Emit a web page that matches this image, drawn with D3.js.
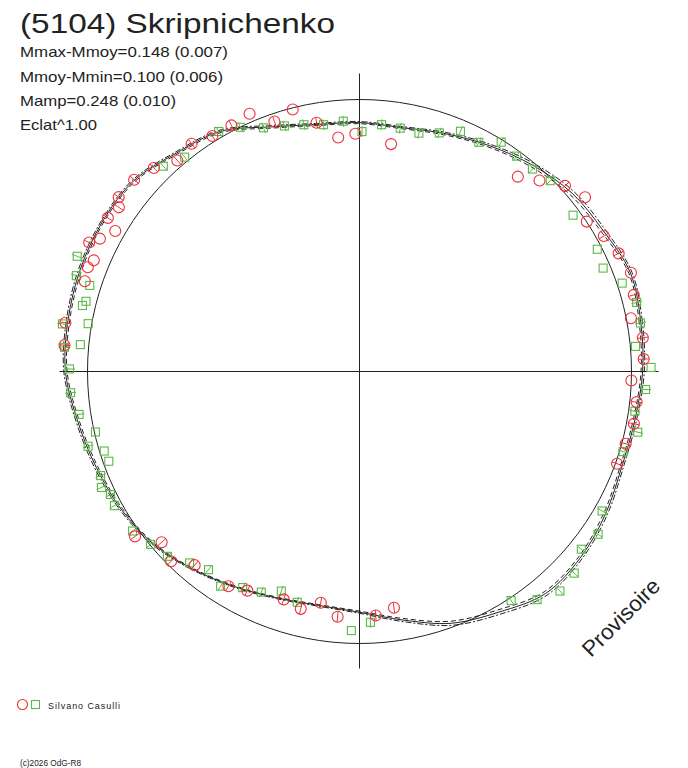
<!DOCTYPE html>
<html><head><meta charset="utf-8">
<script src="https://cdn.jsdelivr.net/npm/d3@7"></script>
<style>html,body{margin:0;padding:0;background:#fff}svg{display:block}</style>
</head><body>
<script>
// ---- data ----
const titleText = "(5104) Skripnichenko";
const statLines = ["Mmax-Mmoy=0.148 (0.007)", "Mmoy-Mmin=0.100 (0.006)", "Mamp=0.248 (0.010)", "Eclat^1.00"];
const observer = "Silvano Casulli";
const copyright = "(c)2026 OdG-R8";
const stamp = "Provisoire";

// fitted light curve: angle (deg, ccw from +x) and relative flux
const curveAngle = [0,10,20,30,40,50,60,70,80,90,100,110,120,130,140,150,160,170,180,190,200,210,220,230,240,250,260,270,280,290,300,310,320,330,340,350];
const curveFit  = [1.041,1.050,1.060,1.035,1.020,0.990,0.958,0.930,0.910,0.915,0.922,0.957,1.020,1.048,1.087,1.094,1.093,1.088,1.081,1.052,1.030,1.012,0.988,0.950,0.914,0.886,0.873,0.885,0.928,0.985,1.022,1.065,1.062,1.045,1.026,1.028];
const curveHigh = [1.047,1.056,1.066,1.043,1.029,0.998,0.964,0.935,0.914,0.919,0.926,0.962,1.025,1.053,1.092,1.099,1.099,1.094,1.087,1.058,1.036,1.017,0.992,0.953,0.917,0.889,0.876,0.889,0.934,0.993,1.031,1.073,1.069,1.052,1.032,1.034];
const curveLow  = [1.035,1.044,1.054,1.027,1.011,0.982,0.952,0.925,0.906,0.911,0.918,0.952,1.015,1.043,1.082,1.089,1.087,1.082,1.075,1.046,1.024,1.007,0.984,0.947,0.911,0.883,0.870,0.881,0.922,0.977,1.013,1.057,1.055,1.038,1.020,1.022];

// observations: [angle deg, relative flux, error]
const redObs = [
 [104.3,0.994,0],[113.1,1.030,0],[108.8,0.971,0.02],[99.8,0.928,0.02],[95.2,0.864,0],[91.0,0.874,0],
 [117.5,1.020,0.02],[122.0,1.021,0.02],[126.4,1.040,0.02],[130.8,1.025,0.02],[135.3,1.064,0.02],[139.6,1.088,0.02],
 [144.1,1.093,0.02],[145.7,1.071,0.02],[148.6,1.084,0.02],[150.1,1.036,0],[152.9,1.072,0],[154.5,1.101,0.02],
 [157.3,1.059,0],[159.0,1.070,0],[161.8,1.063,0],[170.6,1.096,0.02],[174.9,1.089,0.02],[82.1,0.844,0],
 [50.9,0.923,0],[46.7,0.965,0],[42.1,1.018,0.02],[37.7,1.048,0],[33.4,1.001,0],[29.0,1.027,0.02],
 [24.5,1.047,0.02],[20.0,1.062,0],[15.6,1.047,0.02],[11.1,1.017,0],[6.8,1.049,0.02],[2.5,1.046,0.02],
 [358.1,1.000,0],[353.7,1.025,0.02],[349.2,1.027,0.02],[344.8,1.014,0.02],[340.3,1.006,0.02],
 [278.3,0.878,0.02],[273.8,0.899,0.02],[216.3,1.024,0.02],[220.8,0.961,0.02],[225.2,0.983,0.02],
 [229.6,0.935,0.02],[238.6,0.925,0.02],[242.9,0.905,0.02],[251.6,0.883,0.02],[256.1,0.899,0.02],
 [260.5,0.862,0.02],[264.9,0.905,0.02]
];
const greenObs = [
 [93.7,0.922,0.02],[98.3,0.917,0.02],[102.7,0.930,0.02],[107.0,0.944,0.02],[111.5,0.963,0.02],[116.0,0.999,0.02],
 [120.4,1.023,0.02],[89.4,0.882,0.02],[129.2,1.017,0.02],[133.7,1.044,0.02],[157.8,1.121,0.02],[161.3,1.099,0.02],
 [162.3,1.041,0],[165.6,1.038,0],[166.6,1.047,0],[170.0,1.013,0],[170.9,1.106,0.02],[174.5,1.031,0],
 [175.3,1.088,0.02],[179.5,1.066,0.02],[84.9,0.911,0.02],[80.5,0.907,0.02],[76.0,0.903,0.02],[71.5,0.925,0.02],
 [67.2,0.958,0.02],[62.5,0.950,0.02],[58.3,0.991,0.02],[53.9,0.980,0.02],[49.5,0.979,0.02],[45.0,0.992,0.02],
 [36.2,0.973,0],[27.2,0.983,0],[23.0,0.973,0],[18.6,1.019,0],[14.0,1.050,0.02],[9.8,1.048,0.02],
 [5.2,1.019,0],[0.8,1.072,0],[356.4,1.054,0.02],[351.8,1.023,0.02],[347.7,1.047,0.02],[343.1,1.013,0.02],
 [330.1,1.029,0.02],[325.7,1.062,0.02],[321.3,1.045,0.02],[316.8,1.083,0.02],[312.4,1.093,0.02],
 [307.9,1.063,0.02],[303.5,1.010,0.02],[272.5,0.923,0.02],[268.2,0.953,0],
 [184.2,1.065,0.02],[188.7,1.043,0.02],[192.9,0.996,0],[195.4,1.035,0.02],[197.3,0.983,0],[199.7,0.979,0],
 [201.9,1.026,0.02],[204.2,1.040,0.02],[206.3,1.021,0.02],[208.7,1.027,0.02],[215.1,1.020,0.02],
 [219.6,0.997,0.02],[223.9,0.980,0.02],[228.4,0.941,0.02],[232.7,0.916,0.02],[237.1,0.940,0.02],
 [241.6,0.903,0.02],[246.0,0.888,0.02],[250.4,0.857,0.02],[254.9,0.879,0.02]
];

// ---- drawing ----
const W = 688, H = 768;
const cx = 359.5, cy = 371.5, R = 272;
const RED = "#ec3038", GREEN = "#5ab947", INK = "#222";
const FONT = "'Liberation Sans', Arial, Helvetica, sans-serif";

const rScale = d3.scaleLinear().domain([0, 1]).range([0, R]);
const aScale = d3.scaleLinear().domain([0, 360]).range([Math.PI / 2, Math.PI / 2 - 2 * Math.PI]);

const svg = d3.select("body").append("svg").attr("width", W).attr("height", H)
  .attr("viewBox", `0 0 ${W} ${H}`);
svg.append("rect").attr("width", W).attr("height", H).attr("fill", "#fff");

const g = svg.append("g").attr("transform", `translate(${cx},${cy})`);

// axes
g.append("line").attr("x1", -300).attr("x2", 299).attr("y1", 0).attr("y2", 0)
  .attr("stroke", INK).attr("stroke-width", 1);
g.append("line").attr("x1", 0).attr("x2", 0).attr("y1", -298).attr("y2", 297)
  .attr("stroke", INK).attr("stroke-width", 1);

// reference circle (mean brightness)
g.append("circle").attr("r", rScale(1)).attr("fill", "none").attr("stroke", INK).attr("stroke-width", 1);

// fitted curves
const radial = d3.lineRadial()
  .angle(d => aScale(d[0]))
  .radius(d => rScale(d[1]))
  .curve(d3.curveCatmullRomClosed);
const fitSets = [
  {vals: curveHigh, dash: "6,2,2,2"},
  {vals: curveLow, dash: "5,3"},
  {vals: curveFit, dash: null}
];
fitSets.forEach(s => {
  g.append("path")
    .attr("d", radial(curveAngle.map((a, i) => [a, s.vals[i]])))
    .attr("fill", "none").attr("stroke", INK).attr("stroke-width", 1)
    .attr("stroke-dasharray", s.dash);
});

// error bars + markers
function drawObs(obs, color, shape) {
  const grp = g.append("g");
  obs.forEach(([a, f, e]) => {
    const th = aScale(a);
    const [x, y] = d3.pointRadial(th, rScale(f));
    if (e > 0) {
      const p1 = d3.pointRadial(th, rScale(f - e));
      const p2 = d3.pointRadial(th, rScale(f + e));
      grp.append("line").attr("x1", p1[0]).attr("y1", p1[1]).attr("x2", p2[0]).attr("y2", p2[1])
        .attr("stroke", color).attr("stroke-width", 1);
    }
    if (shape === "circle") {
      grp.append("circle").attr("cx", x).attr("cy", y).attr("r", 5.5)
        .attr("fill", "none").attr("stroke", color).attr("stroke-width", 1.1);
    } else {
      grp.append("rect").attr("x", x - 4).attr("y", y - 4).attr("width", 8).attr("height", 8)
        .attr("fill", "none").attr("stroke", color).attr("stroke-width", 1.1);
    }
  });
}
drawObs(greenObs, GREEN, "square");
drawObs(redObs, RED, "circle");

// texts
svg.append("text").attr("x", 20).attr("y", 32.5).text(titleText)
  .attr("font-family", FONT).attr("font-size", 27).attr("fill", INK)
  .attr("textLength", 315).attr("lengthAdjust", "spacingAndGlyphs");
const statLen = [208, 203, 156, 77];
const statY = [57, 81.5, 106, 130];
statLines.forEach((t, i) => {
  svg.append("text").attr("x", 20).attr("y", statY[i]).text(t)
    .attr("font-family", FONT).attr("font-size", 15).attr("fill", INK)
    .attr("textLength", statLen[i]).attr("lengthAdjust", "spacingAndGlyphs");
});

// legend
svg.append("circle").attr("cx", 22.5).attr("cy", 704.5).attr("r", 5)
  .attr("fill", "none").attr("stroke", RED).attr("stroke-width", 1.1);
svg.append("rect").attr("x", 31.5).attr("y", 700.5).attr("width", 8).attr("height", 8)
  .attr("fill", "none").attr("stroke", GREEN).attr("stroke-width", 1.1);
svg.append("text").attr("x", 48).attr("y", 708.5).text(observer)
  .attr("font-family", FONT).attr("font-size", 9).attr("fill", INK)
  .attr("textLength", 72).attr("lengthAdjust", "spacing");
svg.append("text").attr("x", 20).attr("y", 766).text(copyright)
  .attr("font-family", FONT).attr("font-size", 8.5).attr("fill", INK)
  .attr("textLength", 61).attr("lengthAdjust", "spacingAndGlyphs");

// stamp
svg.append("text").attr("transform", "translate(591,658) rotate(-45)").text(stamp)
  .attr("font-family", FONT).attr("font-size", 22).attr("fill", INK)
  .attr("textLength", 100).attr("lengthAdjust", "spacingAndGlyphs");
</script>
</body></html>
